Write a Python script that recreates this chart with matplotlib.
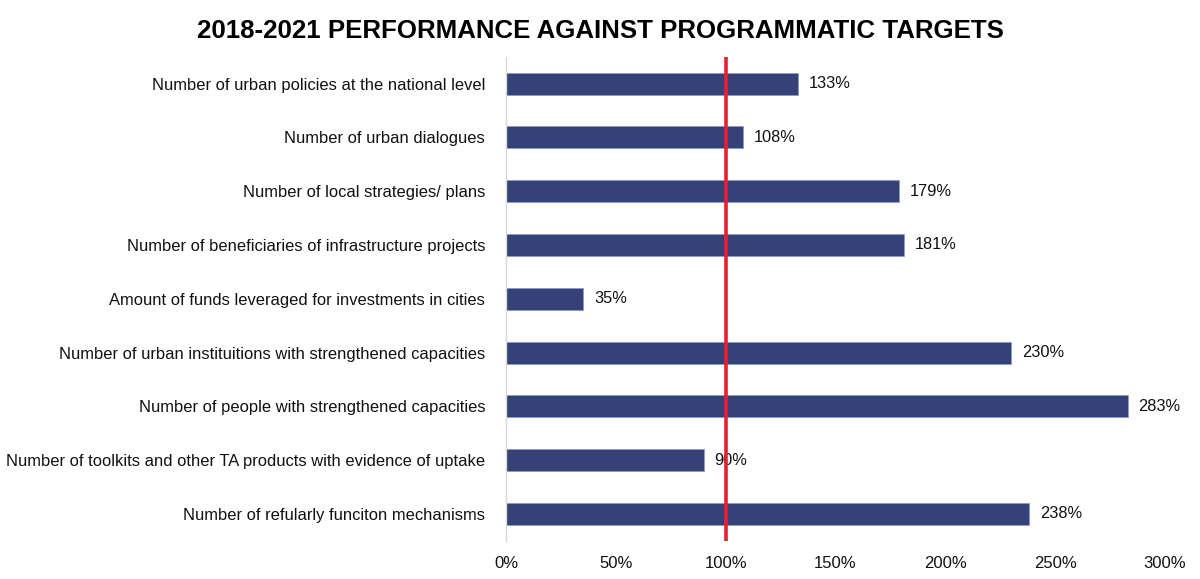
import matplotlib
matplotlib.use('Agg')
import matplotlib.pyplot as plt
import numpy as np

plt.rcParams['font.family'] = ['Liberation Sans', 'DejaVu Sans']

labels = ['Number of urban policies at the national level',
          'Number of urban dialogues',
          'Number of local strategies/ plans',
          'Number of beneficiaries of infrastructure projects',
          'Amount of funds leveraged for investments in cities',
          'Number of urban instituitions with strengthened capacities',
          'Number of people with strengthened capacities',
          'Number of toolkits and other TA products with evidence of uptake',
          'Number of refularly funciton mechanisms']
values = [133, 108, 179, 181, 35, 230, 283, 90, 238]
xticks = [0, 50, 100, 150, 200, 250, 300]
target = 100

fig = plt.figure(figsize=(12, 5.79), dpi=100)
ax = fig.add_axes([0.4217, 0.066, 0.549, 0.836])

y = np.arange(len(labels))
ax.barh(y, values, height=0.41, color='#344277', edgecolor='#8d9bc9', linewidth=0.6, zorder=2)
for yy, v in zip(y, values):
    ax.text(v + 5, yy, '%d%%' % v, va='center', ha='left', fontsize=11.8, color='#111111')

ax.axvline(target, color='#e0232d', linewidth=2.6, zorder=3)

ax.set_ylim(len(labels) - 0.5, -0.5)
ax.set_xlim(0, 300)
ax.set_yticks(y)
ax.set_yticklabels(labels, fontsize=11.9, color='#111111')
ax.set_xticks(xticks)
ax.set_xticklabels(['%d%%' % t for t in xticks], fontsize=12, color='#111111')
ax.tick_params(axis='both', length=0)
ax.tick_params(axis='y', pad=15)
ax.tick_params(axis='x', pad=11)
for s in ['top', 'right', 'bottom']:
    ax.spines[s].set_visible(False)
ax.spines['left'].set_color('#d9d9d9')
ax.spines['left'].set_linewidth(1)

fig.suptitle('2018-2021 PERFORMANCE AGAINST PROGRAMMATIC TARGETS', x=0.5, y=0.968,
             fontsize=18.6, fontweight='bold', va='top')

fig.savefig('out.png', dpi=100)
